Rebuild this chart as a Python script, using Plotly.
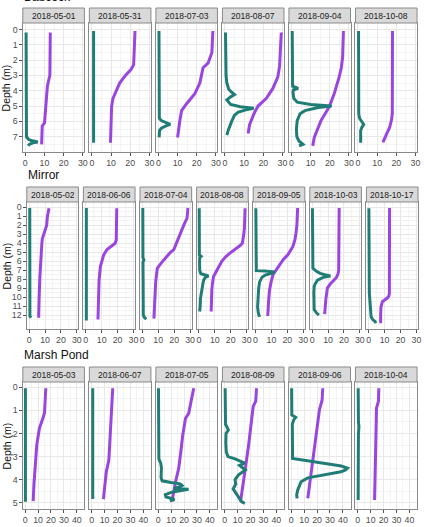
import plotly.graph_objects as go

# ---------------- DATA ----------------
# Each profile: (depth_m, value)
lake_names = ["Babcock", "Mirror", "Marsh Pond"]
bab_dates = ["2018-05-01", "2018-05-31", "2018-07-03", "2018-08-07", "2018-09-04", "2018-10-08"]
mir_dates = ["2018-05-02", "2018-06-06", "2018-07-04", "2018-08-08", "2018-09-05", "2018-10-03", "2018-10-17"]
mar_dates = ["2018-05-03", "2018-06-07", "2018-07-05", "2018-08-09", "2018-09-06", "2018-10-04"]

x_ticks_30 = [0, 10, 20, 30]
x_ticks_40 = [0, 10, 20, 30, 40]
y_ticks_bab = [0, 1, 2, 3, 4, 5, 6, 7]
y_ticks_mir = list(range(0, 13))
y_ticks_mar = [0, 1, 2, 3, 4, 5]

# Babcock - purple (temperature) and teal profiles
bab_0501_p = ([0.2, 1, 2, 3, 3.3, 3.7, 4.5, 5.5, 6.1, 6.3, 7, 7.5],
              [13, 13, 13, 12.8, 12.2, 11.5, 11.0, 10.5, 10.0, 8.8, 8.6, 8.5])
bab_0501_t = ([0.2, 2, 4, 6, 7.0, 7.15, 7.25, 7.35, 7.4, 7.5, 7.6],
              [0.4, 0.4, 0.4, 0.5, 0.6, 1.5, 3, 6.5, 4, 2, 1.5])
bab_0531_p = ([0.1, 1, 2.3, 2.6, 3.0, 3.5, 4.0, 4.5, 5, 6, 7, 7.4],
              [22.5, 22.2, 21.8, 20.5, 17.5, 14.5, 12.8, 11.0, 10.3, 10.0, 9.8, 9.7])
bab_0531_t = ([0.1, 2, 4, 6, 7.4],
              [0.9, 0.9, 0.9, 0.9, 0.9])
bab_0703_p = ([0.1, 0.5, 1.5, 2.2, 2.5, 3.5, 4.2, 4.85, 5.3, 5.95, 7.05],
              [28.4, 28.2, 27.9, 25.9, 23.3, 21.6, 19, 14.7, 12.1, 11.2, 10])
bab_0703_t = ([0.1, 2, 4, 5.8, 5.95, 6.1, 6.2, 6.3, 6.45, 6.6, 7.05],
              [0.3, 0.3, 0.4, 0.5, 1.5, 4, 6.2, 4, 1.5, 0.6, 0.4])
bab_0807_p = ([0.2, 1, 2.4, 3.1, 3.85, 4.5, 5.0, 5.4, 6.2, 6.8],
              [29.4, 29, 28.5, 27.6, 25, 21.6, 17.3, 15.5, 12.9, 12.1])
bab_0807_t = ([0.2, 1, 2, 3, 3.5, 3.9, 4.1, 4.25, 4.4, 4.6, 4.9, 5.05, 5.15, 5.25, 5.4, 5.6, 6.0, 6.3, 6.6, 6.9],
              [0.3, 0.3, 0.4, 0.6, 1.0, 2.0, 3.5, 5.0, 3.0, 1.0, 3.0, 8.0, 15.0, 11.0, 7.0, 5.0, 3.5, 2.5, 1.7, 1.0])
bab_0904_p = ([0.1, 1, 1.8, 2.5, 3.1, 4.2, 5.05, 5.95, 7.05, 7.6],
              [27.1, 27, 26.7, 26, 24.9, 22.3, 19.7, 15.4, 11.9, 11.1])
bab_0904_t = ([0.1, 1, 2, 3, 3.7, 3.85, 3.95, 4.1, 4.5, 4.75, 4.9, 5.0, 5.1, 5.3, 5.5, 5.95, 6.5, 7.0, 7.3, 7.5, 7.6],
              [0.4, 0.4, 0.5, 0.5, 0.6, 3.5, 1.0, 0.8, 1.2, 3.0, 10, 21, 14, 7, 4.5, 3, 2.6, 2.8, 4, 6, 4])
bab_1008_p = ([0.1, 2, 4, 5.5, 5.9, 6.4, 6.8, 7.37],
              [18, 18, 18, 17.9, 17.5, 16.5, 15, 13])
bab_1008_t = ([0.1, 2, 4, 5.5, 5.8, 6.0, 6.2, 6.4, 6.6, 7.0, 7.4],
              [0.3, 0.3, 0.3, 0.4, 0.8, 2.0, 3.0, 2.0, 1.4, 1.4, 1.4])

# Mirror
mir_0502_p = ([0.1, 0.5, 1.0, 2.0, 2.3, 2.8, 3.5, 4.0, 5, 6, 8, 10, 12.3],
              [12.5, 12.0, 11.5, 11.0, 10.5, 9.5, 8.3, 8.0, 7.6, 7.2, 6.7, 6.3, 6.0])
mir_0502_t = ([0.07, 3, 6, 9, 12.1, 12.3],
              [0.4, 0.4, 0.4, 0.5, 0.5, 1.2])
mir_0606_p = ([0.1, 1, 2, 3, 3.6, 4.0, 4.4, 4.7, 5.3, 6.0, 6.6, 8.1, 10, 12.5],
              [19.5, 19.5, 19.5, 19.4, 19.2, 18.5, 15.5, 13.4, 11.3, 10, 9.2, 8.4, 8.0, 7.7])
mir_0606_t = ([0.07, 3, 6, 9, 12.6],
              [0.4, 0.4, 0.4, 0.4, 0.4])
mir_0704_p = ([0.07, 0.5, 1.2, 2.0, 3.4, 4.7, 5.0, 5.4, 5.85, 6.4, 6.8, 8.3, 10, 12.4],
              [28.7, 28.5, 28.1, 26, 22.9, 19.8, 17.7, 15.5, 13.5, 11, 9.4, 8.4, 7.8, 7.3])
mir_0704_t = ([0.07, 3, 5.6, 5.85, 6.1, 8, 10, 12.0, 12.3, 12.45],
              [0.3, 0.3, 0.4, 1.0, 0.4, 0.5, 0.6, 0.6, 1.5, 2.5])
mir_0808_p = ([0.1, 1, 2.3, 3, 4.0, 4.3, 4.55, 5.1, 5.5, 6.0, 7.0, 7.7, 8.5, 9.2, 10.5, 11.6],
              [29, 28.9, 28.6, 28.2, 27.3, 25.5, 23.5, 19.5, 16.8, 14.4, 11.3, 9.2, 8.5, 8.1, 7.9, 7.7])
mir_0808_t = ([0.1, 2, 4, 5.3, 5.45, 5.6, 6, 7, 7.4, 7.55, 7.65, 7.8, 8.1, 8.5, 9.0, 9.5, 10.1, 11, 11.6],
              [0.2, 0.2, 0.3, 0.3, 1.4, 0.5, 0.4, 0.5, 1.2, 4.5, 6, 4, 3, 2.5, 2.1, 1.8, 1.0, 0.8, 0.5])
mir_0905_p = ([0.07, 1, 2.0, 2.9, 3.6, 4.4, 5.3, 5.8, 6.4, 7.0, 7.5, 8.3, 9.2, 10.5, 12.1],
              [26.5, 26.3, 26.0, 25.4, 24.8, 23.4, 20.2, 17.5, 15, 13, 11, 9.8, 8.8, 8.2, 7.7])
mir_0905_t = ([0.1, 2, 4, 6, 7.05, 7.1, 7.2, 7.35, 7.55, 7.8, 8.3, 9, 9.6, 10.5, 11.1, 11.8, 12.2],
              [0.2, 0.2, 0.2, 0.3, 0.5, 6, 12, 10, 6, 4, 2.6, 2.0, 1.7, 1.4, 1.3, 1.8, 2.5])
mir_1003_p = ([0.07, 2, 4, 6, 7.0, 7.4, 7.8, 8.1, 8.5, 9.0, 10.3, 11.9],
              [17, 17, 16.9, 16.8, 16.7, 16.3, 15.3, 13.8, 11.5, 9.6, 8.6, 7.9])
mir_1003_t = ([0.1, 3, 6, 6.8, 7.1, 7.35, 7.5, 7.65, 7.8, 8.1, 8.5, 8.8, 9.5, 10.7, 11.4, 11.8, 12.0],
              [0.2, 0.2, 0.3, 0.5, 2.5, 5, 8, 11.5, 7, 3.4, 2, 1.3, 1.1, 1.0, 1.3, 3, 4.3])
mir_1017_p = ([0.07, 3, 6, 9.6, 9.9, 10.1, 10.5, 11.1, 12, 12.9],
              [13.1, 13.1, 13.1, 13, 12.6, 11.7, 8.6, 7.7, 7.5, 7.5])
mir_1017_t = ([0.1, 4, 8, 9.6, 10.5, 11.5, 12.2, 12.5, 12.7, 12.9],
              [0.1, 0.1, 0.2, 0.4, 0.8, 1.2, 1.5, 2.5, 4.0, 4.4])

# Marsh Pond
mar_0503_p = ([0.04, 0.7, 1.1, 1.3, 1.5, 1.78, 2.5, 3.5, 4.2, 4.93],
              [16, 15.5, 15, 14, 12.5, 11, 9, 7.5, 6.8, 6.2])
mar_0503_t = ([0.04, 1, 2, 3, 4, 4.96],
              [0.2, 0.2, 0.2, 0.2, 0.2, 0.2])
mar_0607_p = ([0.04, 0.7, 1.2, 2, 3.15, 3.66, 4.3, 4.84],
              [16.3, 15.6, 14.8, 14.2, 13.3, 11.3, 10, 9.1])
mar_0607_t = ([0.04, 1, 2, 3, 4, 4.84],
              [0.8, 0.8, 0.8, 0.8, 0.8, 0.8])
mar_0705_p = ([0.04, 0.6, 1.13, 1.35, 2.07, 2.8, 3.5, 4.1, 4.5, 4.9],
              [27.5, 25.5, 23.6, 21.1, 19, 17.5, 15.9, 13.4, 12, 10.8])
mar_0705_t = ([0.04, 1, 2, 3.1, 3.3, 3.5, 3.9, 4.05, 4.12, 4.18, 4.25, 4.32, 4.38, 4.42, 4.47, 4.55, 4.65, 4.75, 4.82, 4.87, 4.92],
              [0.2, 0.2, 0.2, 0.5, 2.0, 2.5, 2.2, 3.0, 10, 17, 18.5, 16, 12, 23.5, 18, 10, 5.5, 6.0, 11, 12.5, 9])
mar_0809_p = ([0.04, 0.6, 0.84, 1.5, 2.5, 3.5, 4.3, 4.96],
              [24.6, 24, 22, 20.7, 18.5, 16, 14, 12.2])
mar_0809_t = ([0.04, 1, 1.6, 1.75, 1.85, 2.0, 2.4, 2.8, 3.0, 3.1, 3.2, 3.28, 3.38, 3.48, 3.58, 3.7, 3.8, 4.0, 4.2, 4.4, 4.6, 4.8, 4.95, 5.03],
              [0.3, 0.4, 0.6, 2.0, 2.8, 1.0, 0.8, 1.2, 2.5, 8, 13, 15.5, 11.5, 14, 16, 13, 10.5, 8, 8.5, 6.5, 9, 11, 13, 15.5])
mar_0906_p = ([0.04, 0.55, 0.98, 2, 3, 4, 4.81],
              [24.4, 23.9, 21.8, 19.3, 17, 14.8, 12.8])
mar_0906_t = ([0.04, 1.2, 1.3, 1.4, 1.6, 2.5, 3.08, 3.2, 3.3, 3.41, 3.5, 3.58, 3.66, 3.8, 3.92, 4.09, 4.3, 4.45, 4.65, 4.81],
              [0.3, 0.4, 3.4, 2.0, 0.8, 0.8, 1.0, 15, 28, 38.7, 43.5, 42, 38.5, 25.7, 12.8, 7.6, 6, 5, 4.2, 4.5])
mar_1004_p = ([0.04, 0.6, 0.9, 2, 3, 4, 4.88],
              [16.3, 16, 14.5, 14, 13.6, 13.3, 13])
mar_1004_t = ([0.04, 1, 1.5, 1.7, 2, 3, 4, 4.88],
              [0.3, 0.3, 0.5, 0.9, 0.5, 0.4, 0.3, 0.3])

bab_profiles = [(bab_0501_p, bab_0501_t), (bab_0531_p, bab_0531_t), (bab_0703_p, bab_0703_t),
                (bab_0807_p, bab_0807_t), (bab_0904_p, bab_0904_t), (bab_1008_p, bab_1008_t)]
mir_profiles = [(mir_0502_p, mir_0502_t), (mir_0606_p, mir_0606_t), (mir_0704_p, mir_0704_t),
                (mir_0808_p, mir_0808_t), (mir_0905_p, mir_0905_t), (mir_1003_p, mir_1003_t),
                (mir_1017_p, mir_1017_t)]
mar_profiles = [(mar_0503_p, mar_0503_t), (mar_0607_p, mar_0607_t), (mar_0705_p, mar_0705_t),
                (mar_0809_p, mar_0809_t), (mar_0906_p, mar_0906_t), (mar_1004_p, mar_1004_t)]

# ---------------- LAYOUT ----------------
W, H = 426, 527
PURPLE = "#9a45e0"
TEAL = "#1f7d75"
FONT = "Liberation Sans, Arial, sans-serif"
BORDER = "#8a8a8a"

rows = [
    dict(name=lake_names[0], dates=bab_dates, prof=bab_profiles, left=23, step=67, width=62,
         top=23, bottom=152, xr=[-1.3, 30.8], yr=[8.0, -0.42], xt=x_ticks_30, yt=y_ticks_bab, title_y=-3.5),
    dict(name=lake_names[1], dates=mir_dates, prof=mir_profiles, left=27, step=57, width=52,
         top=202, bottom=329, xr=[-1.45, 31.0], yr=[13.55, -0.6], xt=x_ticks_30, yt=y_ticks_mir, title_y=175),
    dict(name=lake_names[2], dates=mar_dates, prof=mar_profiles, left=23, step=67, width=62,
         top=382, bottom=509, xr=[-1.8, 45.9], yr=[5.27, -0.23], xt=x_ticks_40, yt=y_ticks_mar, title_y=355),
]

fig = go.Figure()
layout = dict(width=W, height=H, margin=dict(l=0, r=0, t=0, b=0), autosize=False,
              paper_bgcolor="white", plot_bgcolor="white", showlegend=False,
              font=dict(family=FONT, size=9, color="#4d4d4d"))
shapes = []
annotations = []

k = 0
for r in rows:
    for i, (date, (pp, tt)) in enumerate(zip(r["dates"], r["prof"])):
        k += 1
        xl = r["left"] + r["step"] * i
        xr_ = xl + r["width"]
        xa = "xaxis" if k == 1 else f"xaxis{k}"
        ya = "yaxis" if k == 1 else f"yaxis{k}"
        xref = "x" if k == 1 else f"x{k}"
        yref = "y" if k == 1 else f"y{k}"
        xt = r["xt"]
        yt = r["yt"]
        layout[xa] = dict(domain=[xl / W, xr_ / W], anchor=yref, range=r["xr"],
                          tickvals=xt, ticktext=[str(v) for v in xt], ticks="outside", ticklen=2.5,
                          tickcolor="#555", tickwidth=0.8,
                          tickfont=dict(size=8.8, color="#4d4d4d", family=FONT),
                          showgrid=True, gridcolor="#e8e8e8", gridwidth=0.8,
                          minor=dict(tickvals=[v + 5 for v in xt[:-1]], showgrid=True,
                                     gridcolor="#f4f4f4", gridwidth=0.5, ticks=""),
                          showline=True, mirror=True, linecolor=BORDER, linewidth=1,
                          zeroline=False, fixedrange=True)
        layout[ya] = dict(domain=[1 - r["bottom"] / H, 1 - r["top"] / H], anchor=xref, range=r["yr"],
                          tickvals=yt, ticktext=[str(v) for v in yt],
                          ticks="outside" if i == 0 else "", ticklen=2.5, tickcolor="#555", tickwidth=0.8,
                          showticklabels=(i == 0),
                          tickfont=dict(size=8.8, color="#4d4d4d", family=FONT),
                          showgrid=True, gridcolor="#e8e8e8", gridwidth=0.8,
                          minor=dict(tickvals=[v + 0.5 for v in yt], showgrid=True,
                                     gridcolor="#f4f4f4", gridwidth=0.5, ticks=""),
                          showline=True, mirror=True, linecolor=BORDER, linewidth=1,
                          zeroline=False, fixedrange=True)
        fig.add_trace(go.Scatter(x=pp[1], y=pp[0], xaxis=xref, yaxis=yref, mode="lines",
                                 line=dict(color=PURPLE, width=3), hoverinfo="skip", name="purple"))
        fig.add_trace(go.Scatter(x=tt[1], y=tt[0], xaxis=xref, yaxis=yref, mode="lines",
                                 line=dict(color=TEAL, width=3), hoverinfo="skip", name="teal"))
        # strip
        st_top = r["top"] - 15
        shapes.append(dict(type="rect", xref="paper", yref="paper",
                           x0=xl / W, x1=xr_ / W, y0=1 - r["top"] / H, y1=1 - st_top / H,
                           fillcolor="#d9d9d9", line=dict(color=BORDER, width=1), layer="above"))
        annotations.append(dict(text=date, xref="paper", yref="paper",
                                x=(xl + xr_) / 2 / W, y=1 - (r["top"] - 7.5) / H,
                                showarrow=False, xanchor="center", yanchor="middle",
                                font=dict(size=8.5, color="#1a1a1a", family=FONT)))
    # row title
    annotations.append(dict(text=r["name"], xref="paper", yref="paper",
                            x=(r["left"] - 1) / W, y=1 - r["title_y"] / H, showarrow=False,
                            xanchor="left", yanchor="middle",
                            font=dict(size=12, color="#111", family=FONT)))
    # y axis title
    annotations.append(dict(text="Depth (m)", xref="paper", yref="paper",
                            x=7 / W, y=1 - (r["top"] + r["bottom"]) / 2 / H, showarrow=False,
                            textangle=-90, xanchor="center", yanchor="middle",
                            font=dict(size=10.5, color="#111", family=FONT)))

layout["shapes"] = shapes
layout["annotations"] = annotations
fig.update_layout(**layout)
fig.write_html("out.html")
